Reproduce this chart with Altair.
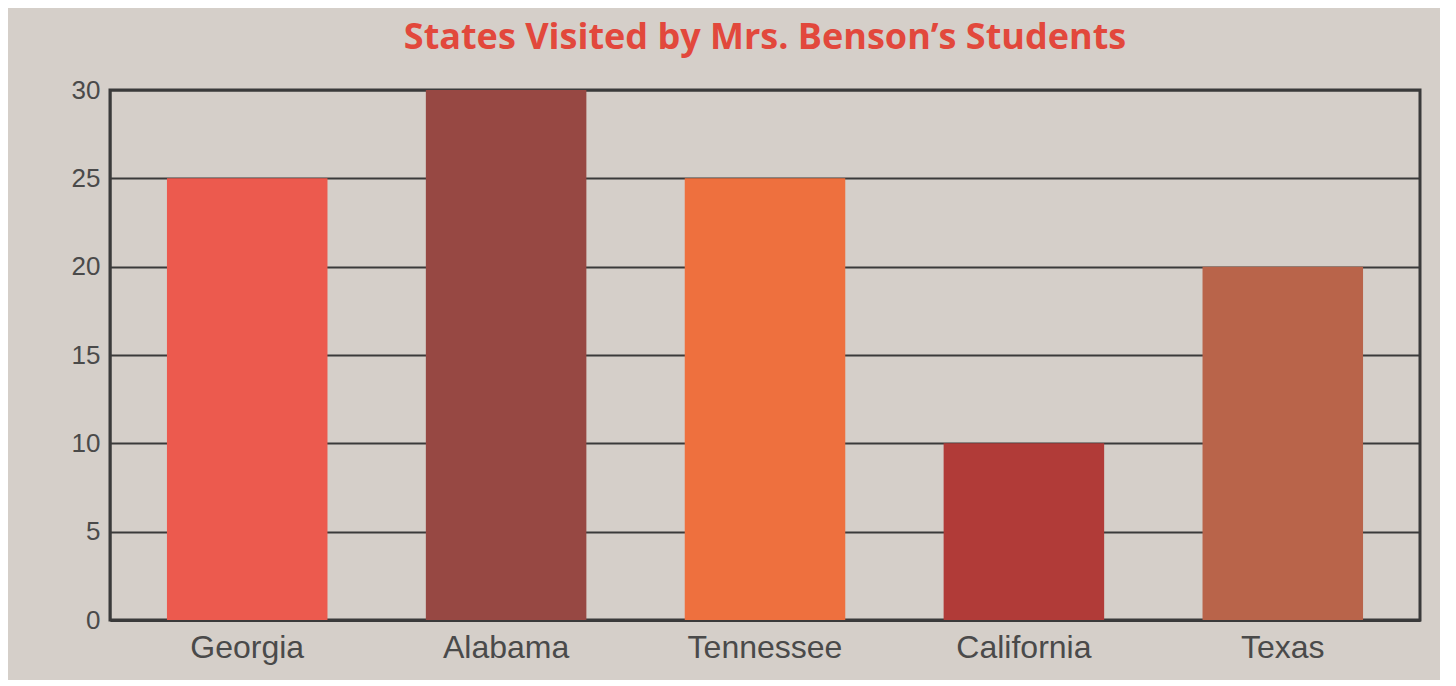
import altair as alt
import pandas as pd

states = ["Georgia", "Alabama", "Tennessee", "California", "Texas"]
visits = [25, 30, 25, 10, 20]
colors = ["#ec5a4e", "#974843", "#ee703e", "#b13b38", "#b9644a"]

df = pd.DataFrame({"State": states, "Students": visits})

chart = alt.Chart(df).mark_bar().encode(
    x=alt.X("State:N", sort=states, title=None,
            scale=alt.Scale(paddingInner=0.38, paddingOuter=0.22),
            axis=alt.Axis(labelAngle=0, labelFontSize=32, labelColor="#4a4a4a",
                          labelFont="Liberation Sans", labelPadding=12,
                          ticks=False, domainColor="#3a3a3a", domainWidth=3)),
    y=alt.Y("Students:Q", title=None,
            scale=alt.Scale(domain=[0, 30]),
            axis=alt.Axis(values=[0, 5, 10, 15, 20, 25, 30], labelFontSize=26,
                          labelColor="#4a4a4a", labelFont="Liberation Sans",
                          ticks=False, labelPadding=10, gridColor="#3a3a3a",
                          gridWidth=2, gridOpacity=1, domainColor="#3a3a3a",
                          domainWidth=2)),
    color=alt.Color("State:N", sort=states,
                    scale=alt.Scale(domain=states, range=colors), legend=None),
).properties(
    width=1310,
    height=530,
    background="#d5cfc9",
    padding={"left": 102, "top": 82, "right": 20, "bottom": 60},
    autosize=alt.AutoSizeParams(type="none"),
    title=alt.TitleParams("States Visited by Mrs. Benson\u2019s Students",
                          font="Open Sans", fontSize=36, fontWeight="bold",
                          color="#e2483c", anchor="middle", offset=20),
).configure_view(stroke="#3a3a3a", strokeWidth=3)

chart.save("out.html", embed_options={"renderer": "svg", "actions": False})
